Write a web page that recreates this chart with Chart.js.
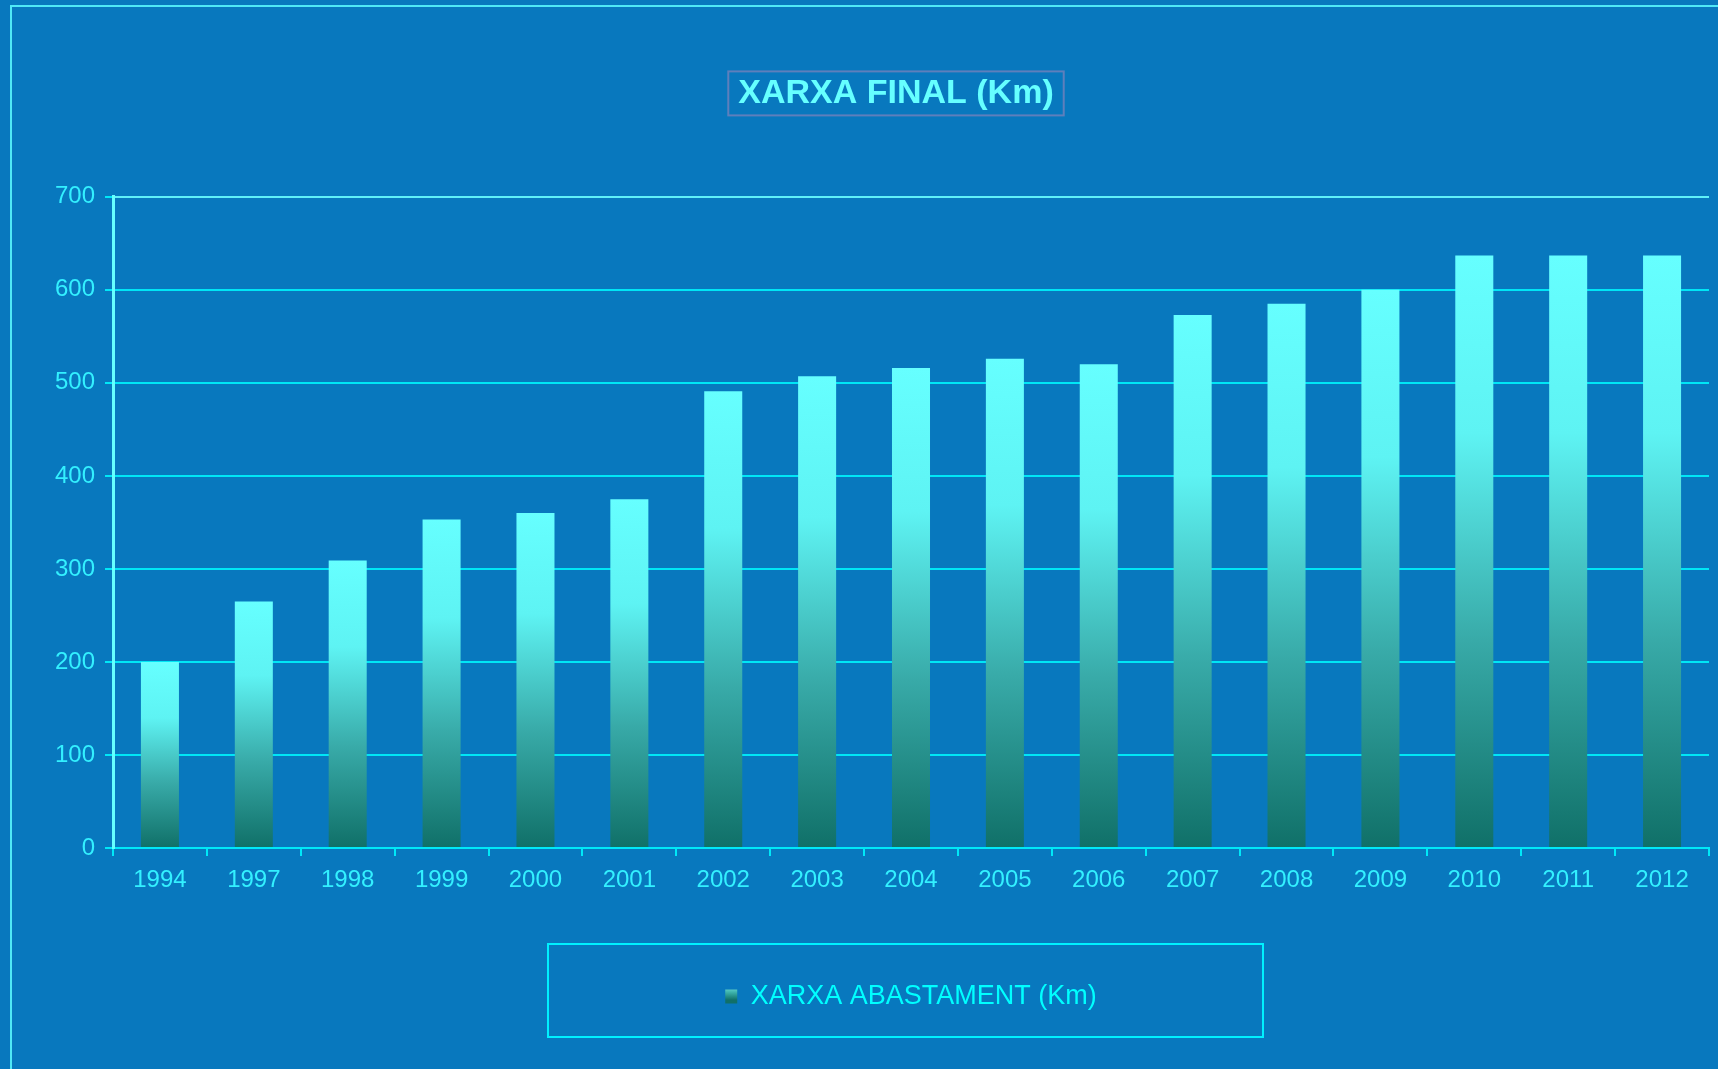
<!DOCTYPE html>
<html>
<head>
<meta charset="utf-8">
<title>XARXA FINAL (Km)</title>
<script src="https://cdn.jsdelivr.net/npm/chart.js@4.4.0/dist/chart.umd.min.js"></script>
<style>
  html, body { margin: 0; padding: 0; background: #0878be; overflow: hidden; }
  #wrap { width: 1718px; height: 1069px; }
</style>
</head>
<body>
<div id="wrap"><canvas id="xarxaChart" width="1718" height="1069"></canvas></div>
<script>
// dades
var years = ["1994", "1997", "1998", "1999", "2000", "2001", "2002", "2003", "2004",
             "2005", "2006", "2007", "2008", "2009", "2010", "2011", "2012"];
var xarxaKm = [200, 265, 309, 353, 360, 375, 491, 507, 516, 526, 520, 573, 585, 600, 637, 637, 637];
var yMin = 0;
var yMax = 700;
var yStep = 100;
var titleText = "XARXA FINAL (Km)";
var seriesName = "XARXA ABASTAMENT (Km)";

var fontName = "'Liberation Sans', Arial, sans-serif";
var titleSize = 34;
var titlePadTop = 73;

// degradat de cada barra, de dalt (cian) a baix (verd fosc)
function barGradient(context) {
  var chart = context.chart;
  if (context.type !== 'data' || !chart.chartArea) return '#45c9c4';
  var y = chart.scales.y;
  var top = y.getPixelForValue(context.raw);
  var base = y.getPixelForValue(0);
  var g = chart.ctx.createLinearGradient(0, top, 0, base);
  g.addColorStop(0, '#66ffff');
  g.addColorStop(0.3, '#5ef3f3');
  g.addColorStop(0.65, '#38aaa8');
  g.addColorStop(1, '#107068');
  return g;
}

var frames = {
  id: 'frames',
  afterLayout: function (chart) {
    // el títol de l'original queda una mica a l'esquerra del centre del gràfic
    chart.titleBlock.left = 83;
  },
  beforeDraw: function (chart) {
    var ctx = chart.ctx;
    ctx.save();
    ctx.fillStyle = '#0878be';
    ctx.fillRect(0, 0, chart.width, chart.height);
    // marc exterior
    ctx.strokeStyle = '#4fe8f6';
    ctx.lineWidth = 2;
    ctx.beginPath();
    ctx.moveTo(11, chart.height);
    ctx.lineTo(11, 6);
    ctx.lineTo(chart.width, 6);
    ctx.stroke();
    ctx.restore();
  },
  afterDraw: function (chart) {
    var ctx = chart.ctx;
    var tb = chart.titleBlock;
    ctx.save();
    // caixa del títol
    ctx.font = 'bold ' + titleSize + 'px ' + fontName;
    var w = ctx.measureText(titleText).width;
    var cx = (tb.left + tb.right) / 2;
    var cy = tb.top + titlePadTop + titleSize * 1.2 / 2;
    ctx.strokeStyle = '#5e7fbc';
    ctx.lineWidth = 2;
    ctx.strokeRect(cx - w / 2 - 10, cy - 22, w + 20, 44);
    // caixa de la llegenda
    ctx.strokeStyle = '#00f0ff';
    ctx.lineWidth = 2;
    ctx.strokeRect(548, 944, 715, 93);
    ctx.restore();
  }
};

var ctxX = document.getElementById('xarxaChart').getContext('2d');
var xarxaChart = new Chart(ctxX, {
  type: 'bar',
  data: {
    labels: years,
    datasets: [{
      label: seriesName,
      data: xarxaKm,
      backgroundColor: barGradient,
      borderWidth: 0,
      barPercentage: 0.405,
      categoryPercentage: 1
    }]
  },
  options: {
    responsive: false,
    animation: false,
    layout: { padding: { left: 0, right: 9, top: 0, bottom: 49 } },
    plugins: {
      title: {
        display: true,
        text: titleText,
        fullSize: false,
        color: '#66ffff',
        font: { family: fontName, size: titleSize, weight: 'bold' },
        padding: { top: titlePadTop, bottom: 83 }
      },
      legend: {
        display: true,
        position: 'bottom',
        fullSize: false,
        labels: {
          color: '#00ffff',
          font: { family: fontName, size: 27 },
          boxWidth: 12,
          boxHeight: 14,
          padding: 75,
          generateLabels: function (chart) {
            var items = Chart.defaults.plugins.legend.labels.generateLabels(chart);
            var g = chart.ctx.createLinearGradient(0, 984, 0, 1000);
            g.addColorStop(0, '#8ff5ee');
            g.addColorStop(0.5, '#3fb5ae');
            g.addColorStop(1, '#107068');
            items.forEach(function (it) { it.fillStyle = g; it.strokeStyle = g; it.lineWidth = 0; });
            return items;
          }
        }
      },
      tooltip: { enabled: false }
    },
    scales: {
      x: {
        grid: {
          offset: true,
          drawOnChartArea: true,
          color: function (c) { return c.index === years.length ? '#4fe8f6' : 'rgba(0,0,0,0)'; },
          tickColor: '#00e8f8',
          tickLength: 8,
          lineWidth: 2
        },
        border: { color: '#00e8f8', width: 2 },
        ticks: {
          color: '#33f0ff',
          font: { family: fontName, size: 24 },
          padding: 10,
          maxRotation: 0,
          autoSkip: false
        },
        afterFit: function (scale) { scale.height = 60; }
      },
      y: {
        min: yMin,
        max: yMax,
        ticks: {
          stepSize: yStep,
          color: '#33f0ff',
          font: { family: fontName, size: 24 },
          padding: 10
        },
        grid: {
          color: function (c) { return c.tick && c.tick.value === yMax ? '#5ff0f8' : '#00e6f6'; },
          tickColor: '#00e8f8',
          tickLength: 8,
          lineWidth: 2
        },
        border: { color: '#66ffff', width: 3 },
        afterFit: function (scale) { scale.width = 113; }
      }
    }
  },
  plugins: [frames]
});
</script>
</body>
</html>
